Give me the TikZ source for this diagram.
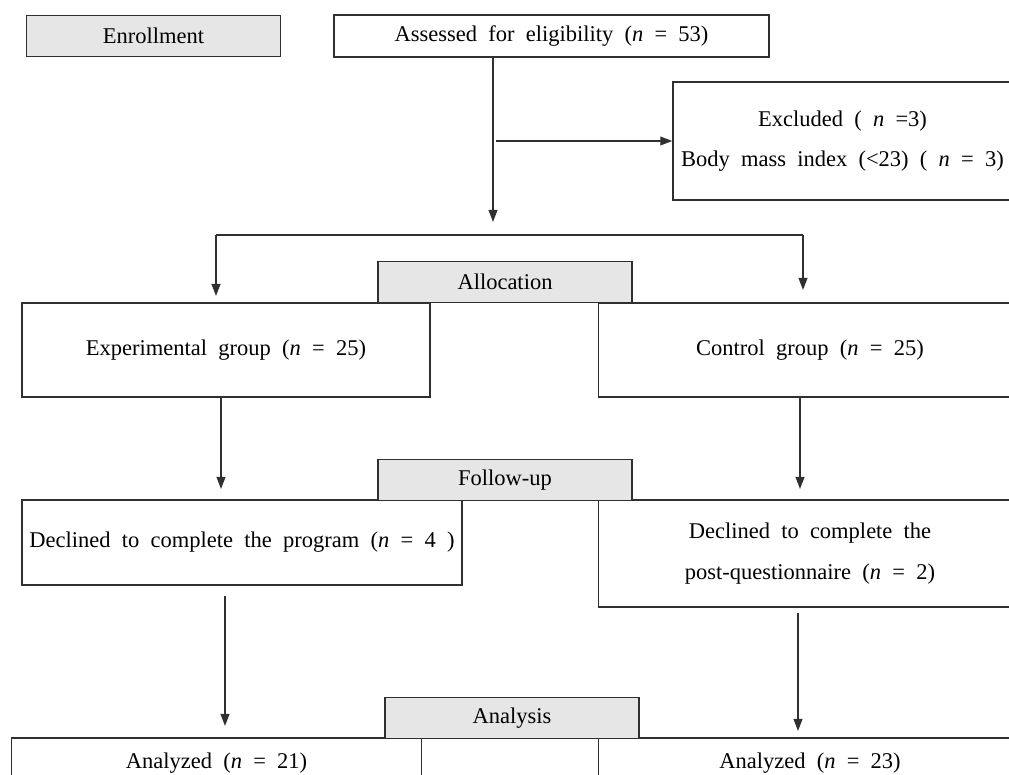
\documentclass[tikz,border=0pt]{standalone}
\usepackage{fontspec}
\setmainfont{Liberation Serif}
\usetikzlibrary{arrows.meta}
\definecolor{headgray}{HTML}{E6E6E6}
\definecolor{linegray}{HTML}{303030}
\newcommand\boxfont[1]{\fontsize{16}{#1}\selectfont\spaceskip=0.5em\relax}

\begin{document}
\begin{tikzpicture}[>={Triangle[length=0.3cm,width=0.22cm]},x=0.025cm,y=-0.025cm,
  every node/.style={font=\boxfont{19}},
  box/.style={draw=linegray,line width=1pt,fill=white,inner sep=0pt,align=center},
  headbox/.style={box,fill=headgray,minimum width=6.35cm,minimum height=1.03cm},
  link/.style={draw=linegray,line width=1pt}]
  \clip (0,0) rectangle (1009,775);
  % enrollment
  \node[headbox] (enroll) at (153.5,36) {Enrollment};
  \node[box,minimum width=10.875cm,minimum height=1.05cm] (assess) at (551.5,36)
        {Assessed for eligibility (\textit{n} = 53)};
  \node[box,minimum width=8.475cm,minimum height=2.95cm,font=\boxfont{28.5}]
        (excl) at (842.5,141)
        {Excluded ( \textit{n} =3)\\Body mass index (<23) ( \textit{n} = 3)};
  \coordinate (split) at (493,222);
  \coordinate (exclfrom) at (496,141);
  \draw[link,->] (assess.south -| split) -- (split);
  \draw[link,->] (exclfrom) -- (excl.west);
  % allocation
  \node[box,minimum width=10.19cm,minimum height=2.35cm] (exper) at (226,350)
        {Experimental group (\textit{n} = 25)};
  \node[box,minimum width=10.575cm,minimum height=2.35cm] (ctrl) at (810,350)
        {Control group (\textit{n} = 25)};
  \node[headbox] (alloc) at (505,282) {Allocation};
  \coordinate (bl) at (216,235);
  \coordinate (br) at (803,235);
  \draw[link] (bl) -- (br);
  \draw[link,->] (bl) -- ++(0,61);
  \draw[link,->] (br) -- ++(0,55);
  % follow-up
  \node[box,minimum width=10.99cm,minimum height=2.125cm] (declp) at (242,542.5)
        {Declined to complete the program (\textit{n} = 4 )};
  \node[box,minimum width=10.575cm,minimum height=2.675cm,font=\boxfont{29.5}]
        (declq) at (810,553.5)
        {Declined to complete the\\post-questionnaire (\textit{n} = 2)};
  \node[headbox] (follow) at (505,480) {Follow-up};
  \coordinate (t1) at (221,489);
  \coordinate (t2) at (800,489);
  \draw[link,->] (t1 |- exper.south) -- (t1);
  \draw[link,->] (t2 |- ctrl.south) -- (t2);
  % analysis
  \node[box,minimum width=10.25cm,minimum height=1.25cm] (anl) at (216.5,763)
        {Analyzed (\textit{n} = 21)};
  \node[box,minimum width=10.575cm,minimum height=1.25cm] (anr) at (810,763)
        {Analyzed (\textit{n} = 23)};
  \node[headbox] (analys) at (512,718) {Analysis};
  \coordinate (t3) at (225,726);
  \coordinate (t4) at (798,731);
  \draw[link,->,shorten <=0.25cm] (t3 |- declp.south) -- (t3);
  \draw[link,->,shorten <=0.12cm] (t4 |- declq.south) -- (t4);
\end{tikzpicture}
\end{document}
